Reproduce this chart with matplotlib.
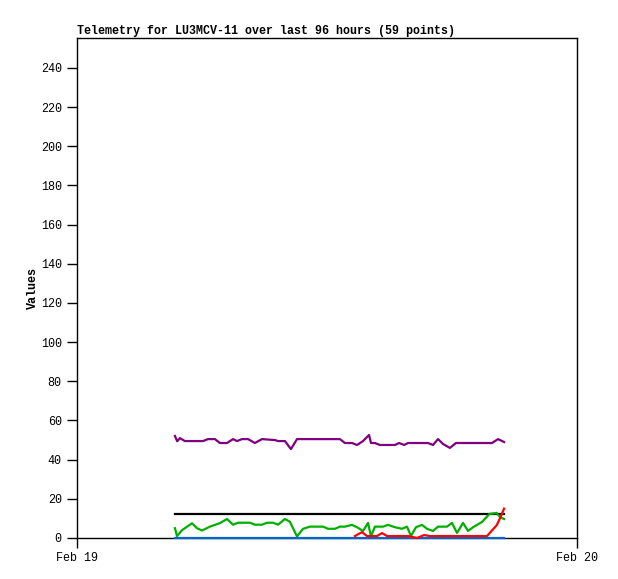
import matplotlib
matplotlib.use("Agg")
import matplotlib.pyplot as plt

# hours since Feb 19 00:00
purple_t = [4.70, 4.81, 4.94, 5.18, 6.05, 6.29, 6.62, 6.86, 7.20, 7.49, 7.68, 7.92,
            8.21, 8.54, 8.88, 9.50, 9.65, 9.98, 10.27, 10.56, 12.62, 12.86, 13.20,
            13.44, 13.73, 14.02, 14.11, 14.30, 14.54, 15.26, 15.46, 15.70, 15.89,
            16.85, 17.09, 17.33, 17.57, 17.90, 18.19, 19.92, 20.21, 20.50]
purple_v = [52.1, 49.4, 51.0, 49.5, 49.5, 50.5, 50.5, 48.5, 48.5, 50.5, 49.5, 50.5,
            50.5, 48.5, 50.5, 50.0, 49.5, 49.5, 45.4, 50.5, 50.5, 48.5, 48.5,
            47.5, 49.5, 52.6, 48.5, 48.5, 47.5, 47.5, 48.5, 47.5, 48.5,
            48.5, 47.5, 50.5, 48.0, 46.0, 48.5, 48.5, 50.5, 49.0]

green_t = [4.70, 4.80, 5.04, 5.52, 5.76, 6.00, 6.38, 6.86, 7.20, 7.49, 7.73, 8.30,
           8.54, 8.88, 9.12, 9.41, 9.65, 9.98, 10.22, 10.56, 10.85, 11.18, 11.81,
           12.05, 12.38, 12.62, 12.86, 13.20, 13.44, 13.73, 13.97, 14.11, 14.30,
           14.69, 14.93, 15.26, 15.60, 15.84, 16.03, 16.27, 16.56, 16.80, 17.09,
           17.33, 17.76, 18.00, 18.24, 18.53, 18.77, 19.01, 19.44, 19.80, 20.15,
           20.30, 20.50]
green_v = [5.0, 1.0, 4.0, 7.5, 5.0, 3.8, 5.8, 7.6, 9.7, 6.8, 7.8, 7.8,
           6.8, 6.8, 7.8, 7.8, 6.8, 9.7, 8.3, 0.8, 4.7, 5.8, 5.8,
           4.7, 4.7, 5.8, 5.8, 6.7, 5.5, 3.6, 7.7, 0.8, 5.8,
           5.8, 6.7, 5.5, 4.7, 5.8, 1.0, 5.5, 6.7, 4.7, 3.6,
           5.8, 5.8, 7.7, 2.6, 7.7, 3.6, 5.5, 8.2, 12.3, 12.8,
           10.7, 9.7]

red_t = [13.34, 13.68, 13.92, 14.40, 14.64, 14.88, 15.36, 15.89, 16.32, 16.66,
         16.94, 17.38, 19.20, 19.68, 20.15, 20.30, 20.50]
red_v = [1.0, 3.0, 1.0, 1.0, 2.5, 1.0, 1.0, 1.0, 0.0, 1.5,
         1.0, 1.0, 1.0, 1.0, 6.6, 10.0, 15.0]

black_t = [4.70, 20.50]
black_v = [12.0, 12.0]

blue_t = [4.70, 20.50]
blue_v = [0.2, 0.2]

mono = ["Liberation Mono", "DejaVu Sans Mono"]

fig = plt.figure(figsize=(6.18, 5.79), dpi=100)
ax = fig.add_axes([77 / 618, 41 / 579, 500 / 618, 500 / 579])

lw = 1.6
ax.plot(black_t, black_v, color="black", lw=lw)
ax.plot(purple_t, purple_v, color="#7f007f", lw=lw)
ax.plot(green_t, green_v, color="#00b000", lw=lw)
ax.plot(blue_t, blue_v, color="#0066cc", lw=lw, clip_on=False, zorder=3)
ax.plot(red_t, red_v, color="#ff0000", lw=lw, clip_on=False, zorder=4)

ax.set_xlim(0, 24)
ax.set_ylim(0, 255.3)
ax.set_yticks(range(0, 241, 20))
ax.set_xticks([0, 24])
ax.set_xticklabels(["Feb 19", "Feb 20"])
ax.tick_params(direction="out", length=7, width=1, color="black", pad=4)
ax.tick_params(axis="x", pad=3)
for lab in ax.get_xticklabels() + ax.get_yticklabels():
    lab.set_family(mono)
    lab.set_fontsize(8.5)

for s in ax.spines.values():
    s.set_linewidth(1)

ax.set_ylabel("Values", family=mono, fontsize=8.5, fontweight="bold", labelpad=1)
ax.set_title("Telemetry for LU3MCV-11 over last 96 hours (59 points)",
             loc="left", family=mono, fontsize=8.4, fontweight="bold", pad=3)

fig.savefig("out.png", dpi=100)
